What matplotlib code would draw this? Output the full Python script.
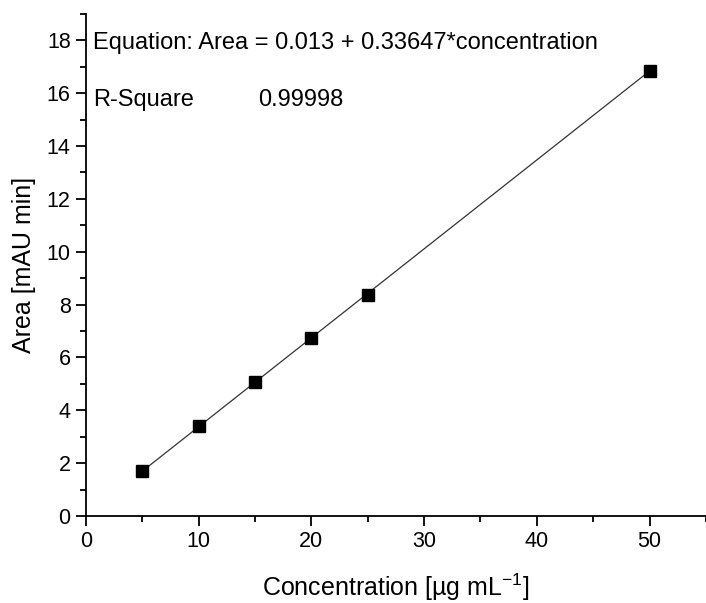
import matplotlib
matplotlib.use("Agg")
import matplotlib.pyplot as plt
from matplotlib.ticker import MultipleLocator
import numpy as np

concentration = [5, 10, 15, 20, 25, 50]
area = [1.70, 3.39, 5.08, 6.73, 8.38, 16.84]
intercept = 0.013
slope = 0.33647
r_square = "0.99998"

plt.rcParams['font.family'] = ['Liberation Sans', 'DejaVu Sans']
plt.rcParams['mathtext.default'] = 'regular'

fig = plt.figure(figsize=(7.06, 6.03), dpi=100)
ax = fig.add_axes([0.1218, 0.1443, 0.878, 0.8327])

xfit = np.array([concentration[0], concentration[-1]])
ax.plot(xfit, intercept + slope * xfit, color='#333333', lw=0.9, zorder=1)
ax.plot(concentration, area, 's', color='black', ms=8, zorder=2)

ax.set_xlim(0, 55)
ax.set_ylim(0, 19)
ax.xaxis.set_major_locator(MultipleLocator(10))
ax.xaxis.set_minor_locator(MultipleLocator(5))
ax.yaxis.set_major_locator(MultipleLocator(2))
ax.yaxis.set_minor_locator(MultipleLocator(1))

for s in ['top', 'right']:
    ax.spines[s].set_visible(False)
for s in ['left', 'bottom']:
    ax.spines[s].set_linewidth(1.3)

ax.tick_params(which='major', direction='out', length=7, width=1.3, labelsize=15.5, pad=4)
ax.tick_params(which='minor', direction='out', length=4, width=1.3)

ax.set_xlabel('Concentration [µg mL$^{-1}$]', fontsize=18, labelpad=14)
ax.set_ylabel('Area [mAU min]', fontsize=18, labelpad=8)

ax.text(0.011, 0.942, 'Equation: Area = %.3f + %.5f*concentration' % (intercept, slope),
        transform=ax.transAxes, fontsize=17, va='center', ha='left')
ax.text(0.011, 0.829, 'R-Square', transform=ax.transAxes, fontsize=17, va='center', ha='left')
ax.text(0.277, 0.829, r_square, transform=ax.transAxes, fontsize=17, va='center', ha='left')

fig.savefig('out.png', dpi=100)
